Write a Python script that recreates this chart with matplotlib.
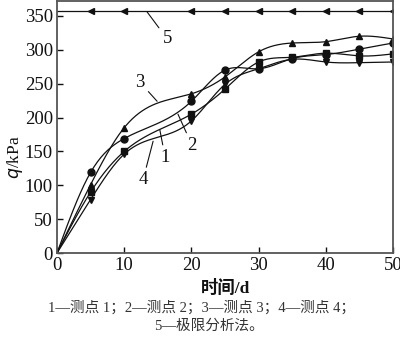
import numpy as np
import matplotlib
matplotlib.use("Agg")
import matplotlib.pyplot as plt

# data
days = [0, 5, 10, 20, 25, 30, 35, 40, 45, 50]
q1 = [0, 90, 150, 205, 242, 282, 289, 295, 291, 294]   # 测点1 (square)
q2 = [0, 119, 169, 224, 270, 272, 287, 293, 301, 310]  # 测点2 (circle)
q3 = [0, 101, 185, 235, 260, 297, 310, 312, 320, 316]  # 测点3 (triangle up)
q4 = [0, 79, 146, 195, 249, 272, 286, 282, 281, 282]   # 测点4 (triangle down)
q5 = [357] * len(days)                                 # 极限分析法
xticks = [0, 10, 20, 30, 40, 50]
yticks = [0, 50, 100, 150, 200, 250, 300, 350]

SERIF = ['Liberation Serif', 'Noto Sans CJK SC']


def spline(x, y, n=300):
    # natural cubic spline for drawing the smooth connecting curve
    x = np.asarray(x, float)
    y = np.asarray(y, float)
    h = np.diff(x)
    m = len(x)
    A = np.zeros((m, m))
    b = np.zeros(m)
    A[0, 0] = A[-1, -1] = 1
    for i in range(1, m - 1):
        A[i, i - 1] = h[i - 1]
        A[i, i] = 2 * (h[i - 1] + h[i])
        A[i, i + 1] = h[i]
        b[i] = 6 * ((y[i + 1] - y[i]) / h[i] - (y[i] - y[i - 1]) / h[i - 1])
    M = np.linalg.solve(A, b)
    xs = np.linspace(x[0], x[-1], n)
    k = np.clip(np.searchsorted(x, xs) - 1, 0, m - 2)
    t1 = x[k + 1] - xs
    t0 = xs - x[k]
    hk = h[k]
    ys = (M[k] * t1 ** 3 + M[k + 1] * t0 ** 3) / (6 * hk) \
        + (y[k] / hk - M[k] * hk / 6) * t1 + (y[k + 1] / hk - M[k + 1] * hk / 6) * t0
    return xs, ys


fig = plt.figure(figsize=(4.0, 3.41), dpi=100)
ax = fig.add_axes([0.1425, 0.258, 0.84, 0.739])

col = '#111111'
for q, mk in [(q1, 's'), (q2, 'o'), (q3, '^'), (q4, 'v')]:
    xs, ys = spline(days, q)
    ax.plot(xs, ys, color=col, lw=0.9)
    ax.plot(days[1:], q[1:], ls='none', marker=mk, ms=5, color=col)
ax.plot(days, q5, color=col, lw=0.9, marker='<', ms=5, markevery=list(range(1, len(days))))

ax.set_xlim(0, 50)
ax.set_ylim(0, 372)
ax.set_xticks(xticks)
ax.set_yticks(yticks)
ax.tick_params(direction='in', length=4, width=1, labelsize=13.5, pad=3, colors='#111111')
for lab in ax.get_xticklabels() + ax.get_yticklabels():
    lab.set_family(SERIF)
for sp in ax.spines.values():
    sp.set_color('#555555')
    sp.set_linewidth(1.3)

# curve labels with leader lines
notes = [('5', (13.4, 356), (16.4, 316)),
         ('3', (14.9, 224), (12.35, 252)),
         ('2', (18.0, 205), (20.1, 159)),
         ('1', (15.3, 182), (16.1, 141)),
         ('4', (14.3, 165), (12.8, 108))]
for txt, xy, xyt in notes:
    ax.annotate(txt, xy=xy, xytext=xyt, fontsize=13.5, family=SERIF,
                ha='center', va='center', color=col,
                arrowprops=dict(arrowstyle='-', lw=0.8, color=col, shrinkA=1, shrinkB=0))

fig.text(0.038, 0.54, '$q$/kPa', rotation=90, fontsize=12.5, family=SERIF,
         ha='center', va='center', color=col)
fig.text(0.565, 0.155, '时间/d', fontsize=12.5, family=SERIF, weight='bold',
         ha='center', va='center', color=col)
fig.text(0.505, 0.097, '1—测点 1；2—测点 2；3—测点 3；4—测点 4；', fontsize=10.5,
         family=SERIF, ha='center', va='center', color='#333333')
fig.text(0.522, 0.045, '5—极限分析法。', fontsize=10.5,
         family=SERIF, ha='center', va='center', color='#333333')

fig.savefig('out.png', dpi=100)
